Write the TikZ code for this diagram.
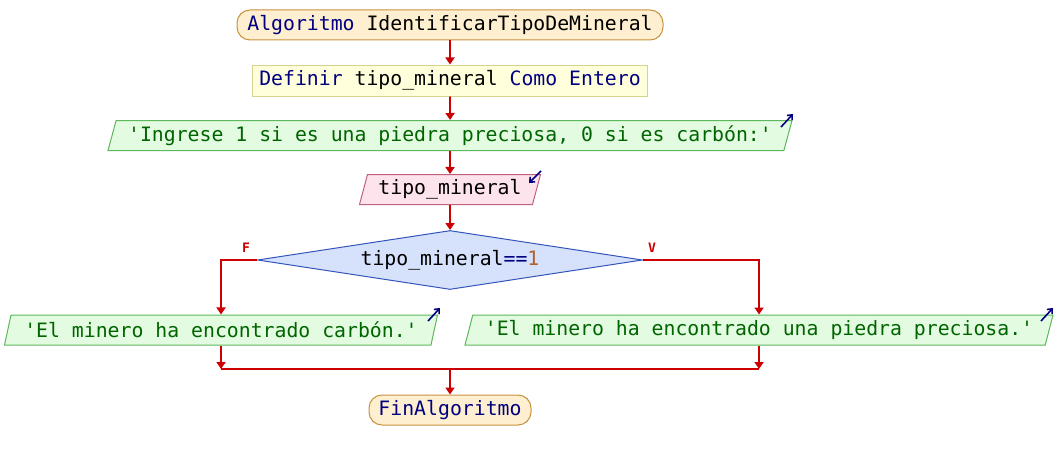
\documentclass[tikz,border=0pt]{standalone}
\usepackage{fontspec}
\setmonofont{DejaVu Sans Mono}
\usetikzlibrary{shapes.geometric,arrows.meta}
\definecolor{kw}{HTML}{000080}
\definecolor{str}{HTML}{006400}
\definecolor{num}{HTML}{B0602A}
\definecolor{flow}{HTML}{CC0000}
\definecolor{termfill}{HTML}{FDEFCF}
\definecolor{termdraw}{HTML}{C8913C}
\definecolor{deffill}{HTML}{FFFFDC}
\definecolor{defdraw}{HTML}{D4D490}
\definecolor{outfill}{HTML}{E3FBE0}
\definecolor{outdraw}{HTML}{5CB85C}
\definecolor{infill}{HTML}{FDE3EC}
\definecolor{indraw}{HTML}{C0607F}
\definecolor{diafill}{HTML}{D6E2FB}
\definecolor{diadraw}{HTML}{3355BB}
\newcommand{\kwd}[1]{\textcolor{kw}{#1}}
\begin{document}
\begin{tikzpicture}[x=1pt,y=-1pt,
  every node/.style={font=\ttfamily\fontsize{19.8}{20}\selectfont, inner sep=0pt},
  term/.style={draw=termdraw, fill=termfill, line width=1pt, rounded corners=13pt, minimum height=30pt},
  defbox/.style={draw=defdraw, fill=deffill, line width=1pt, minimum height=31pt},
  outbox/.style={trapezium, trapezium left angle=68, trapezium right angle=112, trapezium stretches body,
     draw=outdraw, fill=outfill, line width=1pt, minimum height=30pt, text=str},
  inbox/.style={trapezium, trapezium left angle=68, trapezium right angle=112, trapezium stretches body,
     draw=indraw, fill=infill, line width=1pt, minimum height=30pt},
  decision/.style={diamond, aspect=6.5, draw=diadraw, fill=diafill, line width=1pt,
     minimum width=385pt, minimum height=59pt},
  flowline/.style={draw=flow, line width=1.8pt},
  flowarrow/.style={flowline, -{Triangle[width=9pt,length=7pt]}},
  icon/.style={draw=kw, line width=1.6pt, -{Straight Barb[length=4pt,width=7pt]}},
  branchlabel/.style={text=flow, font=\ttfamily\bfseries\fontsize{13}{13}\selectfont}
]
\useasboundingbox (0,0) rectangle (1056,460);

\node[term, minimum width=426pt] (start) at (450,25) {\kwd{Algoritmo} IdentificarTipoDeMineral};
\node[defbox, minimum width=395pt] (def) at (450,80.5) {\kwd{Definir} tipo\_mineral \kwd{Como Entero}};
\node[outbox, minimum width=684pt] (out1) at (450,135.5) {'Ingrese 1 si es una piedra preciosa, 0 si es carbón:'};
\node[inbox, minimum width=181pt] (in1) at (450,189.5) {tipo\_mineral};
\node[decision] (dia) at (450,260) {tipo\_mineral\kwd{==}\textcolor{num}{1}};
\node[outbox, minimum width=433pt] (outF) at (221,330) {'El minero ha encontrado carbón.'};
\node[outbox, minimum width=588pt] (outV) at (759,330) {'El minero ha encontrado una piedra preciosa.'};
\node[term, minimum width=162pt] (end) at (450,410) {\kwd{FinAlgoritmo}};
\coordinate (merge) at (450,369);

\node[branchlabel] (lblF) at (246,248) {F};
\node[branchlabel] (lblV) at (652,248) {V};

\draw[flowarrow] (start.south) -- (def.north);
\draw[flowarrow] (def.south) -- (out1.north);
\draw[flowarrow] (out1.south) -- (in1.north);
\draw[flowarrow] (in1.south) -- (dia.north);
\draw[flowarrow] (dia.west) -| (outF.north);
\draw[flowarrow] (dia.east) -| (outV.north);
\draw[flowarrow] (outF.south) -- (outF.south |- merge);
\draw[flowarrow] (outV.south) -- (outV.south |- merge);
\draw[flowline] (outF.south |- merge) -- (outV.south |- merge);
\draw[flowarrow] (merge) -- (end.north);

% output / input icons
\coordinate (i1a) at (781,127); \coordinate (i1b) at (793,114);
\draw[icon] (i1a) -- (i1b);
\coordinate (i2a) at (541,171); \coordinate (i2b) at (529,183);
\draw[icon] (i2a) -- (i2b);
\coordinate (i3a) at (428,321); \coordinate (i3b) at (440,308);
\draw[icon] (i3a) -- (i3b);
\coordinate (i4a) at (1041,321); \coordinate (i4b) at (1053,308);
\draw[icon] (i4a) -- (i4b);
\end{tikzpicture}
\end{document}
